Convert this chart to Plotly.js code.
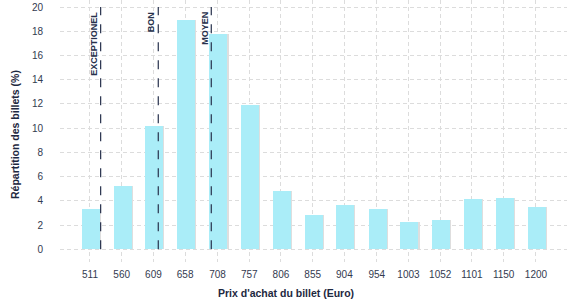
<!DOCTYPE html>
<html>
<head>
<meta charset="utf-8">
<script src="https://cdn.plot.ly/plotly-3.0.1.min.js"></script>
<style>html,body{margin:0;padding:0;background:#fff;}#chart{width:577px;height:300px;}</style>
</head>
<body>
<div id="chart"></div>
<script>
var prices = [511, 560, 609, 658, 708, 757, 806, 855, 904, 954, 1003, 1052, 1101, 1150, 1200];
var shares = [3.3, 5.25, 10.15, 18.95, 17.8, 11.95, 4.8, 2.85, 3.65, 3.3, 2.25, 2.4, 4.15, 4.25, 3.5];
var thresholdNames = ["EXCEPTIONEL", "BON", "MOYEN"];
var thresholdPrices = [527.5, 616.5, 698.4];

var FONT = "Liberation Sans, Arial, sans-serif";
var NAVY = "#27314c";

var shadow = {
  type: "bar", x: prices, y: shares, width: 29.6, offset: -12.5,
  marker: {color: "#dedede", line: {width: 0}}, hoverinfo: "skip", showlegend: false
};
var bars = {
  type: "bar", x: prices, y: shares, width: 27.8, offset: -12.5,
  marker: {color: "#aaedf8", line: {width: 0}}, showlegend: false
};

var shapes = thresholdPrices.map(function (p) {
  return {type: "line", xref: "x", yref: "y", x0: p, x1: p, y0: 0, y1: 20,
          line: {color: NAVY, width: 1.2, dash: "dash"}};
});
var annotations = thresholdNames.map(function (n, i) {
  return {xref: "x", yref: "y", x: thresholdPrices[i], y: 20, xshift: -7, yshift: -3,
          text: "<b>" + n + "</b>", textangle: -90, showarrow: false,
          xanchor: "center", yanchor: "top",
          font: {family: FONT, size: 9, color: NAVY}};
});
annotations.push({xref: "paper", yref: "paper", x: (286 - 60) / 507, y: -31 / 262,
  text: "<b>Prix d'achat du billet (Euro)</b>", showarrow: false, xanchor: "center", yanchor: "middle",
  font: {family: FONT, size: 10.5, color: "#1e2840"}});
annotations.push({xref: "paper", yref: "paper", x: -45 / 507, y: 0.5 - 4 / 262,
  text: "<b>Répartition des billets (%)</b>", textangle: -90, showarrow: false, xanchor: "center", yanchor: "middle",
  font: {family: FONT, size: 10.5, color: "#1e2840"}});

var layout = {
  width: 577, height: 300,
  margin: {l: 60, r: 10, t: 0, b: 38, pad: 0},
  paper_bgcolor: "#fff", plot_bgcolor: "#fff",
  barmode: "overlay", bargap: 0,
  font: {family: FONT, size: 10, color: "#333a4f"},
  xaxis: {
    type: "linear", range: [464.7, 1247.9], tickmode: "array", tickvals: prices,
    ticktext: prices.map(String), showgrid: true, gridcolor: "#dcdcdc", griddash: "4px,3px",
    gridwidth: 1, zeroline: false, showline: false, ticks: "", ticklabelstandoff: 5,
    tickfont: {family: FONT, size: 10, color: "#333a4f"}, fixedrange: true
  },
  yaxis: {
    range: [-1.05, 20.58], tickmode: "array", tickvals: [0, 2, 4, 6, 8, 10, 12, 14, 16, 18, 20],
    showgrid: true, gridcolor: "#dcdcdc", griddash: "4px,3px", gridwidth: 1,
    zeroline: false, showline: false, ticks: "", ticklabelstandoff: 16,
    tickfont: {family: FONT, size: 10, color: "#333a4f"}, fixedrange: true
  },
  shapes: shapes,
  annotations: annotations
};

Plotly.newPlot("chart", [shadow, bars], layout, {displayModeBar: false, staticPlot: true});
</script>
</body>
</html>
